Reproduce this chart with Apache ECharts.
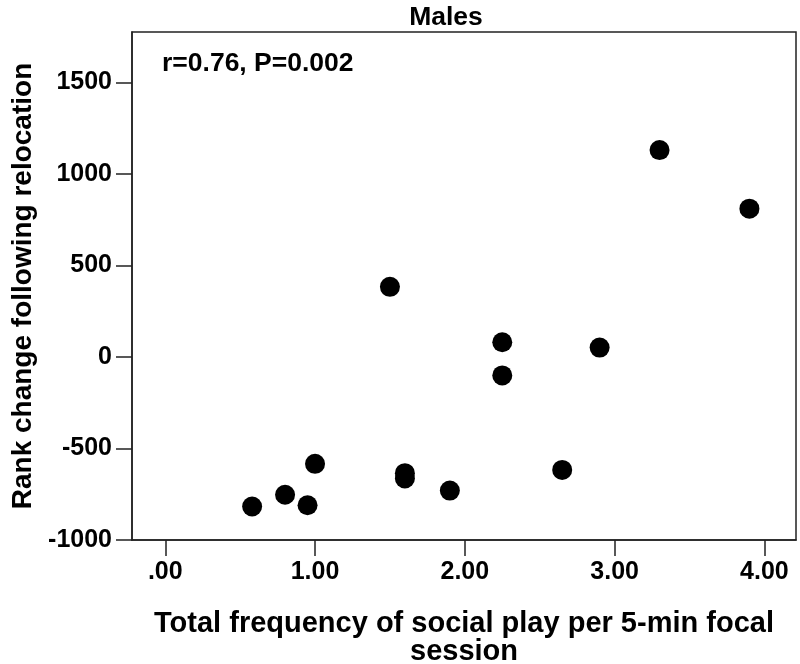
<!DOCTYPE html>
<html>
<head>
<meta charset="utf-8">
<script src="https://cdn.jsdelivr.net/npm/echarts@6/dist/echarts.min.js"></script>
<style>html,body{margin:0;padding:0;background:#fff}#c{width:800px;height:664px}</style>
</head>
<body>
<div id="c"></div>
<script>
var playFreq = [0.58, 0.80, 0.95, 1.00, 1.50, 1.60, 1.60, 1.90, 2.25, 2.25, 2.65, 2.90, 3.30, 3.90];
var rankChange = [-817, -753, -810, -584, 383, -635, -664, -730, 80, -101, -617, 51, 1130, 810];
var xTicks = [0, 1, 2, 3, 4];
var xTickLabels = ['.00', '1.00', '2.00', '3.00', '4.00'];
var yTicks = [-1000, -500, 0, 500, 1000, 1500];
var titleText = 'Males';
var statText = 'r=0.76, P=0.002';
var xName = 'Total frequency of social play per 5-min focal\nsession';
var yName = 'Rank change following relocation';

var points = playFreq.map(function (x, i) { return [x, rankChange[i]]; });
var FONT = 'Arial, "Liberation Sans", sans-serif';
var chart = echarts.init(document.getElementById('c'));
chart.setOption({
  animation: false,
  backgroundColor: '#fff',
  title: {
    text: titleText, left: 446, top: 4, padding: 0, textAlign: 'center',
    textStyle: { fontFamily: FONT, fontSize: 26.5, fontWeight: 'bold', color: '#000' }
  },
  grid: {
    left: 132, right: 4, top: 32, bottom: 124, containLabel: false, outerBoundsMode: 'none',
    show: true, borderColor: '#222', borderWidth: 1.5, backgroundColor: 'transparent'
  },
  xAxis: {
    type: 'value', min: -0.222, max: 4.211,
    name: xName, nameLocation: 'middle', nameGap: 70,
    nameTextStyle: { fontFamily: FONT, fontSize: 29, fontWeight: 'bold', color: '#000', lineHeight: 28 },
    axisLine: { show: true, onZero: false, lineStyle: { color: '#222', width: 1.5 } },
    axisTick: { show: true, inside: false, length: 16, customValues: xTicks, lineStyle: { color: '#222', width: 1.5 } },
    axisLabel: {
      customValues: xTicks, margin: 20,
      fontFamily: FONT, fontSize: 25, fontWeight: 'bold', color: '#000',
      formatter: function (v) { var i = xTicks.indexOf(v); return i >= 0 ? xTickLabels[i] : ''; }
    },
    splitLine: { show: false }
  },
  yAxis: {
    type: 'value', min: -1000, max: 1775,
    name: yName, nameLocation: 'middle', nameGap: 85,
    nameTextStyle: { fontFamily: FONT, fontSize: 28, fontWeight: 'bold', color: '#000' },
    axisLine: { show: true, onZero: false, lineStyle: { color: '#222', width: 1.5 } },
    axisTick: { show: true, inside: false, length: 16, customValues: yTicks, lineStyle: { color: '#222', width: 1.5 } },
    axisLabel: {
      customValues: yTicks, margin: 20,
      fontFamily: FONT, fontSize: 25, fontWeight: 'bold', color: '#000',
      formatter: function (v) { return String(v); }
    },
    splitLine: { show: false }
  },
  graphic: [{
    type: 'text', left: 162, top: 50,
    style: { text: statText, font: 'bold 26.5px ' + FONT, fill: '#000' }
  }],
  series: [{
    type: 'scatter', data: points, symbol: 'circle', symbolSize: 20,
    itemStyle: { color: '#000', opacity: 1 }
  }]
});
</script>
</body>
</html>
